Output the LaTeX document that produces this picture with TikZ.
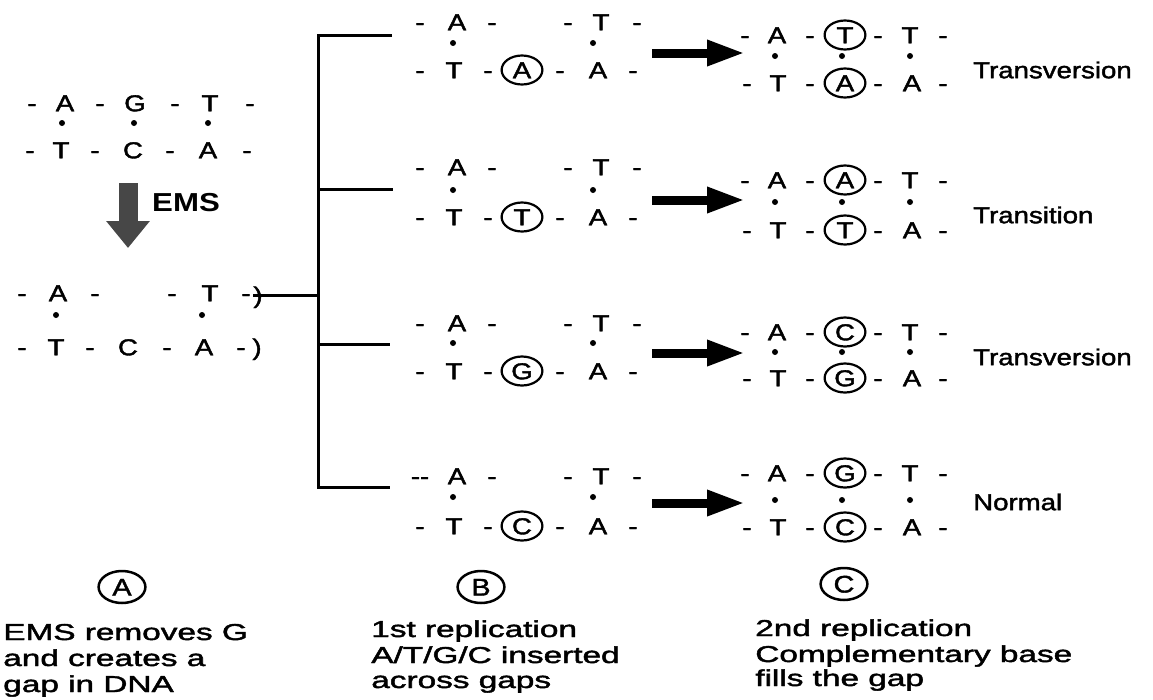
\documentclass[tikz,border=0pt]{standalone}
\usepackage{fontspec}
\setmainfont{Liberation Sans}
\newfontfamily\hv{Liberation Sans}[FakeBold=1.6]
\usetikzlibrary{shapes.geometric,arrows.meta}
\tikzset{
  bt/.style={font=\hv\fontsize{23}{23}\selectfont, xscale=1.2, inner sep=0pt, text height=16.5pt, text depth=0pt},
  cb/.style={bt, draw, ellipse, minimum width=34pt, minimum height=29pt, line width=2.2pt},
  dt/.style={circle, fill, inner sep=0pt, minimum size=6pt},
  lbl/.style={font=\hv\fontsize{23}{23}\selectfont, xscale=1.2, inner sep=0pt, anchor=west},
  captxt/.style={font=\hv\fontsize{23}{23}\selectfont, xscale=1.45, inner sep=0pt, anchor=base west},
  capc/.style={draw, ellipse, line width=2.5pt, font=\hv\fontsize{24}{24}\selectfont, inner sep=0pt, text height=17pt, text depth=0pt, minimum width=39pt, minimum height=32pt, xscale=1.2},
  brk/.style={line width=3pt, line join=miter},
  fat/.style={line width=9pt, -{Triangle[length=38pt,width=24pt]}},
  emsarrow/.style={line width=19pt, draw=black!72, -{Triangle[length=27pt,width=42pt]}},
}
\newcommand{\seq}[3]{\foreach \xx/\lb [count=\ii] in {#3} {\node[bt] (#1-\ii) at (\xx,#2) {\lb};}}
\begin{document}
\begin{tikzpicture}[x=1pt,y=-1pt]
\useasboundingbox (0,0) rectangle (1153,699);
% ---- column A: original DNA
\seq{Lt}{103}{32/-, 65/A, 100/-, 135/G, 175/-, 210/T, 250/-}
\node[dt] (Ld1) at (62,123) {};
\node[dt] (Ld2) at (134,123) {};
\node[dt] (Ld3) at (208,123) {};
\seq{Lb}{150}{30/-, 61/T, 95/-, 133/C, 170/-, 208/A, 247/-}
% EMS arrow
\coordinate (ems1) at (128,183);
\coordinate (ems2) at (128,248);
\draw[emsarrow] (ems1) -- (ems2);
\node[font=\bfseries\fontsize{26}{26}\selectfont, xscale=1.2, inner sep=0pt, anchor=west] (ems) at (152,203) {EMS};
% gapped DNA
\seq{Gt}{293}{22/-, 58/A, 95/-, 172/-, 210/T, 246/-}
\node[bt] (par1) at (258,295) {)};
\node[dt] (Gd1) at (56,315) {};
\node[dt] (Gd2) at (202,315) {};
\seq{Gb}{347}{22/-, 56/T, 90/-, 128/C, 167/-, 204/A, 241/-}
\node[bt] (par2) at (257,347) {)};
% bracket
\coordinate (j1) at (318,35);
\coordinate (j2) at (318,189);
\coordinate (j3) at (318,344);
\coordinate (j4) at (318,487);
\coordinate (br1) at (392,35);
\coordinate (br2) at (393,189);
\coordinate (br3) at (390,344);
\coordinate (br4) at (390,487);
\draw[brk] (br1) -- (j1) -- (j4) -- (br4);
\draw[brk] (j2) -- (br2);
\draw[brk] (j3) -- (br3);
\draw[brk] (par1.west) -- (par1.west -| j1);
% ---- column B
\foreach \k/\yt/\yd/\yb/\cl/\fd/\ya in {1/22/43/70/A/-/53, 2/167/190/217/T/-/200, 3/323/343/371/G/-/353, 4/476/497/526/C/--/503}{
  \seq{Bt\k}{\yt}{420/\fd, 457/A, 492/-, 568/-, 601/T, 637/-}
  \node[dt] (Bd\k-1) at (453,\yd) {};
  \node[dt] (Bd\k-2) at (593,\yd) {};
  \seq{Bb\k}{\yb}{420/-, 454/T, 488/-, 560/-, 598/A, 633/-}
  \node[cb] (Bc\k) at (522,\yb) {\cl};
  \coordinate (as\k) at (652,\ya);
  \coordinate (ae\k) at (745,\ya);
  \draw[fat] (as\k) -- (ae\k);
}
% ---- column C
\foreach \k/\yt/\yd/\yb/\ct/\cbot/\yl/\lab in {1/35/56/83/T/A/70/Transversion, 2/180/202/230/A/T/215/Transition, 3/332/352/378/C/G/357/Transversion, 4/473/500/527/G/C/502/Normal}{
  \seq{Ct\k}{\yt}{745/-, 777/A, 810/-, 878/-, 910/T, 943/-}
  \node[cb] (Cct\k) at (845,\yt) {\ct};
  \node[dt] (Cd\k-1) at (775,\yd) {};
  \node[dt] (Cd\k-2) at (842,\yd) {};
  \node[dt] (Cd\k-3) at (910,\yd) {};
  \seq{Cb\k}{\yb}{747/-, 778/T, 810/-, 878/-, 912/A, 943/-}
  \node[cb] (Ccb\k) at (845,\yb) {\cbot};
  \node[lbl] (lab\k) at (973,\yl) {\lab};
}
% ---- captions
\node[capc] (cA) at (122,587) {A};
\node[capc] (cB) at (481,587) {B};
\node[capc] (cC) at (844,584) {C};
\node[captxt] (tA1) at (3,640) {EMS removes G};
\node[captxt] (tA2) at (3,666) {and creates a};
\node[captxt] (tA3) at (3,692) {gap in DNA};
\node[captxt] (tB1) at (371,637) {1st replication};
\node[captxt] (tB2) at (371,663) {A/T/G/C inserted};
\node[captxt] (tB3) at (371,688) {across gaps};
\node[captxt] (tC1) at (755,636) {2nd replication};
\node[captxt] (tC2) at (755,662) {Complementary base};
\node[captxt] (tC3) at (755,686) {fills the gap};
\end{tikzpicture}
\end{document}
